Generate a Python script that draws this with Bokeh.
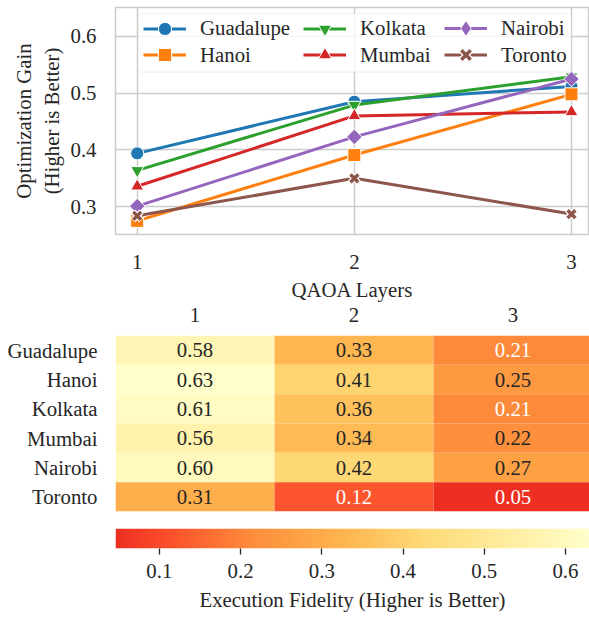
import numpy as np
from bokeh.plotting import figure
from bokeh.models import (Range1d, FixedTicker, Legend, LegendItem, LinearColorMapper,
                          ColumnDataSource, FactorRange, BoxAnnotation)
from bokeh.transform import transform
from bokeh.layouts import column
from bokeh.embed import file_html
from bokeh.resources import INLINE
from bokeh.core.properties import value

# ---------------- data ----------------
layers = [1, 2, 3]
cities = ["Guadalupe", "Hanoi", "Kolkata", "Mumbai", "Nairobi", "Toronto"]

gain_guadalupe = [0.394, 0.485, 0.512]
gain_hanoi = [0.275, 0.391, 0.498]
gain_kolkata = [0.364, 0.479, 0.529]
gain_mumbai = [0.336, 0.460, 0.467]
gain_nairobi = [0.301, 0.423, 0.525]
gain_toronto = [0.284, 0.350, 0.287]

# execution fidelity per city (rows) for layer 1, 2, 3
fid_layer1 = [0.58, 0.633, 0.61, 0.56, 0.60, 0.31]
fid_layer2 = [0.33, 0.41, 0.36, 0.34, 0.42, 0.12]
fid_layer3 = [0.21, 0.25, 0.21, 0.22, 0.27, 0.046]

y_ticks = [0.3, 0.4, 0.5, 0.6]
cbar_ticks = [0.1, 0.2, 0.3, 0.4, 0.5, 0.6]

# ---------------- style ----------------
FONT = "Liberation Serif"
TXT = "#262626"
GRID = "#cccccc"
FS = "20.8px"
W = 589

colors = ["#1f77b4", "#ff7f0e", "#2ca02c", "#d62728", "#9467bd", "#8c564b"]
markers = ["circle", "square", "inverted_triangle", "triangle", "diamond", "x"]
gains = [gain_guadalupe, gain_hanoi, gain_kolkata, gain_mumbai, gain_nairobi, gain_toronto]

# legend item placement (frame-relative screen px): column x, row center y
leg_x = [28, 28, 188, 188, 329, 329]
leg_cy = [206, 179.3, 206, 179.3, 206, 179.3]

# ---------------- line chart ----------------
p1 = figure(width=W, height=303, x_range=Range1d(0.9, 3.083), y_range=Range1d(0.251, 0.651),
            output_backend="svg", toolbar_location=None,
            min_border_left=115, min_border_right=0, min_border_top=7, min_border_bottom=68)
p1.outline_line_color = GRID
p1.outline_line_width = 1.5
for ax in (p1.xaxis[0], p1.yaxis[0]):
    ax.axis_line_color = None
    ax.major_tick_line_color = None
    ax.minor_tick_line_color = None
    ax.major_label_text_font = FONT
    ax.major_label_text_font_size = FS
    ax.major_label_text_color = TXT
    ax.axis_label_text_font = FONT
    ax.axis_label_text_font_size = FS
    ax.axis_label_text_color = TXT
    ax.axis_label_text_font_style = "normal"
p1.xaxis.ticker = FixedTicker(ticks=layers)
p1.yaxis.ticker = FixedTicker(ticks=y_ticks)
p1.xaxis.axis_label = "QAOA Layers"
p1.yaxis.axis_label = "Optimization Gain\n(Higher is Better)"
p1.xaxis.major_label_standoff = 14
p1.xaxis.axis_label_standoff = 6
p1.yaxis.major_label_standoff = 13
p1.yaxis.axis_label_standoff = 5
p1.grid.grid_line_color = GRID
p1.grid.grid_line_width = 1.5

box = BoxAnnotation(left=22.7, right=455.7, bottom=162.3, top=221,
                    left_units="screen", right_units="screen",
                    bottom_units="screen", top_units="screen",
                    fill_color="white", fill_alpha=0.8,
                    line_color=GRID, line_width=1.2)
if "border_radius" in BoxAnnotation.properties():
    box.border_radius = 4
p1.add_layout(box)

for i, (name, g, c, m) in enumerate(zip(cities, gains, colors, markers)):
    src = ColumnDataSource(dict(x=layers, y=g))
    rs = [p1.line("x", "y", source=src, line_color=c, line_width=3)]
    gh = 33
    if m == "x":
        rs.append(p1.scatter("x", "y", source=src, marker=m, size=12, line_color="white", line_width=6))
        rs.append(p1.scatter("x", "y", source=src, marker=m, size=11, line_color=c, line_width=3.5))
    elif m == "diamond":
        p1.scatter("x", "y", source=src, marker="square", angle=np.pi / 4, size=11,
                   fill_color=c, line_color="white", line_width=1)
        # legend-only twin (legend glyphs ignore angle)
        rs.append(p1.scatter("x", "y", source=src, marker="diamond", size=16, fill_color=c,
                             line_color="white", line_width=1, visible=False))
        gh = 40
    else:
        rs.append(p1.scatter("x", "y", source=src, marker=m, size=13, fill_color=c,
                             line_color="white", line_width=1))
    lg = Legend(items=[LegendItem(label=name, renderers=rs)], location=(leg_x[i], leg_cy[i] - gh / 2))
    lg.label_text_font = FONT
    lg.label_text_font_size = FS
    lg.label_text_color = TXT
    lg.glyph_width = 43
    lg.glyph_height = gh
    lg.label_standoff = 14
    lg.spacing = 0
    lg.padding = 0
    lg.margin = 0
    lg.inactive_fill_alpha = 0
    lg.border_line_color = None
    lg.background_fill_color = None
    lg.background_fill_alpha = 0
    p1.add_layout(lg)

# ---------------- heatmap ----------------
fid_cols = [fid_layer1, fid_layer2, fid_layer3]
allv = fid_layer1 + fid_layer2 + fid_layer3
low, high = min(allv), max(allv)

anchors = ["#ffffcc", "#ffeda0", "#fed976", "#feb24c", "#fd8d3c", "#fc4e2a", "#e31a1c", "#bd0026", "#800026"]
arr = np.array([[int(h[i:i + 2], 16) for i in (1, 3, 5)] for h in anchors], dtype=float)
apos = np.linspace(0, 1, len(anchors))
palette = []
for t in np.linspace(0.7, 0.0, 256):
    rgb = [np.interp(t, apos, arr[:, k]) for k in range(3)]
    palette.append("#%02x%02x%02x" % tuple(int(round(v)) for v in rgb))
mapper = LinearColorMapper(palette=palette, low=low, high=high)

hx, hy, hv, ht, hc = [], [], [], [], []
for j, col in enumerate(fid_cols):
    for city, v in zip(cities, col):
        hx.append(j + 0.5)
        hy.append(city)
        hv.append(v)
        ht.append("%.2f" % v)
        hc.append("white" if v < 0.215 else TXT)
hsrc = ColumnDataSource(dict(x=hx, y=hy, v=hv, t=ht, c=hc))

p2 = figure(width=W, height=215, x_range=Range1d(0, 2.981), y_range=FactorRange(factors=cities[::-1]),
            x_axis_location="above", output_backend="svg", toolbar_location=None,
            min_border_left=115, min_border_right=0, min_border_top=32, min_border_bottom=7)
p2.outline_line_color = None
p2.grid.grid_line_color = None
p2.rect("x", "y", width=1, height=1, source=hsrc, fill_color=transform("v", mapper), line_color=None)
p2.text("x", "y", text="t", source=hsrc, text_align="center", text_baseline="middle",
        text_font=value(FONT), text_font_size=FS, text_color="c")
for ax in (p2.xaxis[0], p2.yaxis[0]):
    ax.axis_line_color = None
    ax.major_tick_line_color = None
    ax.minor_tick_line_color = None
    ax.major_label_text_font = FONT
    ax.major_label_text_font_size = FS
    ax.major_label_text_color = TXT
p2.xaxis.ticker = FixedTicker(ticks=[0.5, 1.5, 2.5])
p2.xaxis.major_label_overrides = {0.5: "1", 1.5: "2", 2.5: "3"}
p2.xaxis.major_label_standoff = 8
p2.yaxis.major_label_standoff = 12

# ---------------- colorbar ----------------
p3 = figure(width=W, height=101, x_range=Range1d(low, 0.6296), y_range=Range1d(0, 1),
            y_axis_location=None, output_backend="svg", toolbar_location=None,
            min_border_left=115, min_border_right=0, min_border_top=10, min_border_bottom=71)
p3.outline_line_color = None
p3.grid.grid_line_color = None
grad = np.linspace(low, high, 256).reshape(1, -1)
p3.image(image=[grad], x=low, y=0, dw=high - low, dh=1, color_mapper=mapper)
ax = p3.xaxis[0]
ax.ticker = FixedTicker(ticks=cbar_ticks)
ax.axis_line_color = None
ax.major_tick_line_color = TXT
ax.major_tick_line_width = 1.3
ax.major_tick_out = 6
ax.major_tick_in = 0
ax.minor_tick_line_color = None
ax.major_label_text_font = FONT
ax.major_label_text_font_size = FS
ax.major_label_text_color = TXT
ax.major_label_standoff = 9
ax.axis_label = "Execution Fidelity (Higher is Better)"
ax.axis_label_text_font = FONT
ax.axis_label_text_font_size = FS
ax.axis_label_text_color = TXT
ax.axis_label_text_font_style = "normal"
ax.axis_label_standoff = 7

layout = column(p1, p2, p3, spacing=0)
open("out.html", "w").write(file_html(layout, INLINE))
